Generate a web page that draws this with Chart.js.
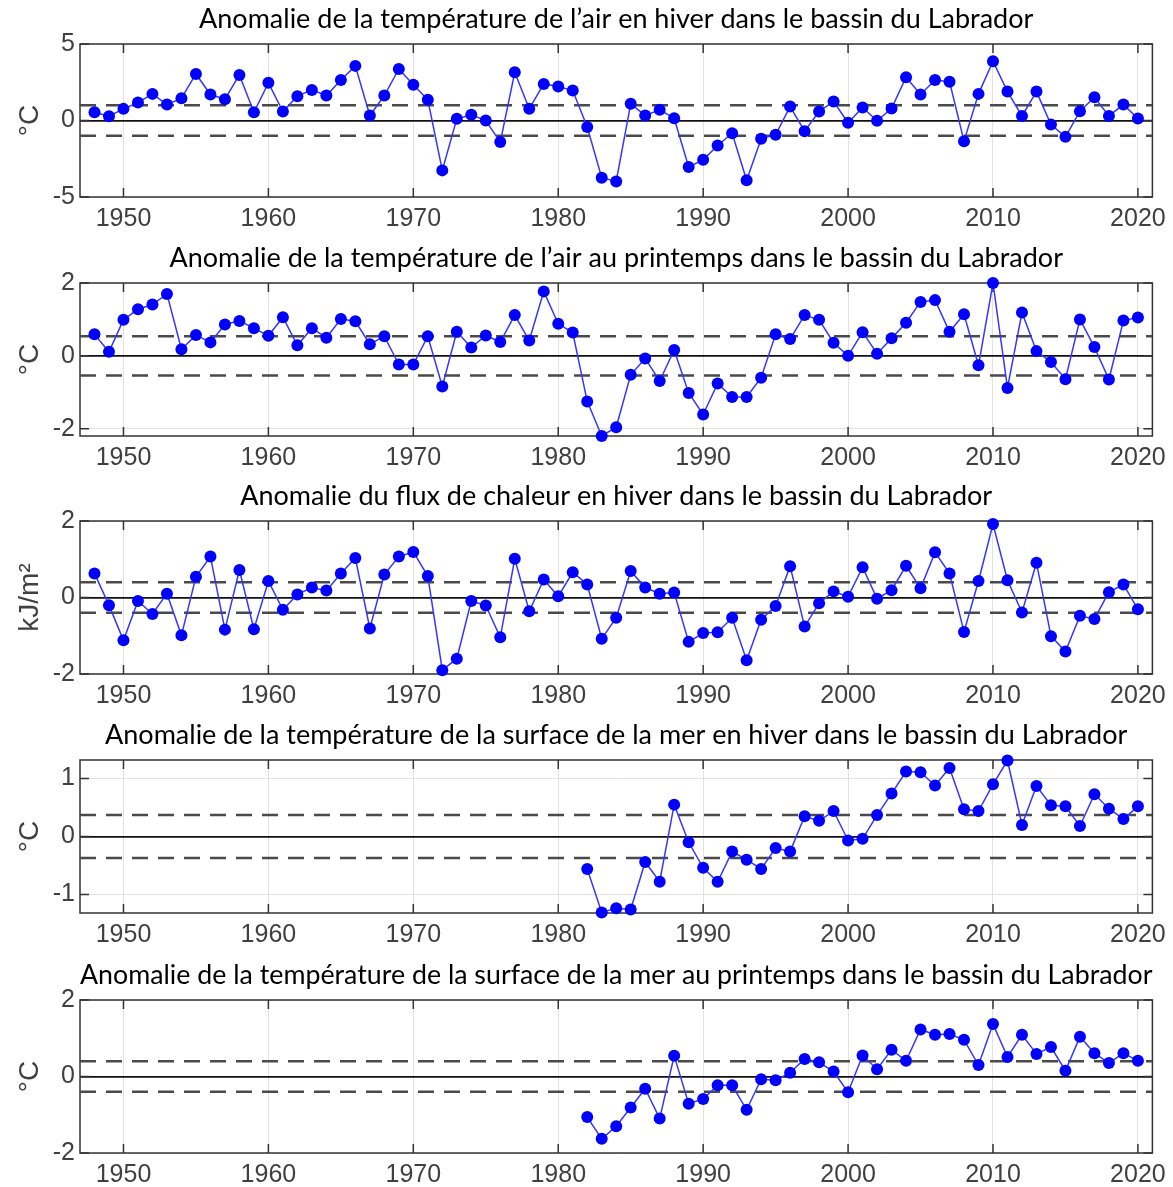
<!DOCTYPE html>
<html lang="fr">
<head>
<meta charset="UTF-8">
<title>Anomalies - bassin du Labrador</title>
<script src="https://cdn.jsdelivr.net/npm/chart.js"></script>
<style>
  html, body { margin: 0; padding: 0; background: #fff; width: 1173px; height: 1187px; overflow: hidden; }
  .panel { position: absolute; left: 0; width: 1173px; height: 239px; }
</style>
</head>
<body>
<div class="panel" style="top:0px"><canvas id="p0" width="1173" height="239"></canvas></div>
<div class="panel" style="top:239px"><canvas id="p1" width="1173" height="239"></canvas></div>
<div class="panel" style="top:477px"><canvas id="p2" width="1173" height="239"></canvas></div>
<div class="panel" style="top:716px"><canvas id="p3" width="1173" height="239"></canvas></div>
<div class="panel" style="top:956px"><canvas id="p4" width="1173" height="239"></canvas></div>

<script>
// x axis
const yearTicks = [1950, 1960, 1970, 1980, 1990, 2000, 2010, 2020];
const xMin = 1947, xMax = 2021;
const yearsLong = Array.from({ length: 73 }, (_, i) => 1948 + i);   // 1948-2020
const yearsShort = Array.from({ length: 39 }, (_, i) => 1982 + i);  // 1982-2020

// air temperature, winter (°C)
const airWinter = [
  0.54, 0.28, 0.76, 1.17, 1.74, 1.04, 1.46, 3.04, 1.70, 1.39,
  2.98, 0.54, 2.46, 0.59, 1.59, 2.00, 1.63, 2.65, 3.57, 0.33,
  1.63, 3.37, 2.33, 1.35, -3.26, 0.11, 0.37, 0.00, -1.41, 3.15,
  0.76, 2.39, 2.22, 1.96, -0.43, -3.74, -3.98, 1.09, 0.33, 0.70,
  0.15, -3.04, -2.57, -1.63, -0.83, -3.91, -1.20, -0.93, 0.91, -0.70,
  0.59, 1.24, -0.15, 0.85, -0.02, 0.78, 2.83, 1.70, 2.65, 2.54,
  -1.35, 1.74, 3.87, 1.89, 0.30, 1.89, -0.26, -1.07, 0.61, 1.52,
  0.30, 1.04, 0.13
];
const airWinterBand = 1.0;
const airWinterTicks = [-5, 0, 5];

// air temperature, spring (°C)
const airSpring = [
  0.59, 0.11, 0.99, 1.28, 1.41, 1.70, 0.18, 0.57, 0.37, 0.86,
  0.96, 0.76, 0.55, 1.06, 0.29, 0.76, 0.50, 1.01, 0.95, 0.32,
  0.54, -0.24, -0.24, 0.54, -0.84, 0.66, 0.23, 0.56, 0.38, 1.12,
  0.42, 1.77, 0.88, 0.64, -1.25, -2.20, -1.96, -0.52, -0.07, -0.69,
  0.16, -1.02, -1.61, -0.76, -1.13, -1.13, -0.60, 0.59, 0.46, 1.12,
  0.99, 0.36, 0.00, 0.65, 0.06, 0.48, 0.91, 1.48, 1.53, 0.66,
  1.14, -0.26, 2.00, -0.88, 1.19, 0.13, -0.17, -0.64, 1.00, 0.24,
  -0.65, 0.97, 1.05
];
const airSpringBand = 0.54;
const airSpringTicks = [-2, 0, 2];

// heat flux, winter (kJ/m2)
const heatFlux = [
  0.63, -0.20, -1.12, -0.09, -0.43, 0.10, -0.99, 0.54, 1.07, -0.84,
  0.72, -0.83, 0.43, -0.32, 0.08, 0.26, 0.18, 0.63, 1.03, -0.81,
  0.60, 1.07, 1.19, 0.56, -1.90, -1.60, -0.09, -0.21, -1.04, 1.01,
  -0.36, 0.47, 0.03, 0.66, 0.34, -1.08, -0.53, 0.69, 0.26, 0.10,
  0.13, -1.16, -0.93, -0.91, -0.53, -1.64, -0.58, -0.22, 0.82, -0.76,
  -0.15, 0.16, 0.02, 0.79, -0.03, 0.19, 0.83, 0.24, 1.18, 0.63,
  -0.90, 0.43, 1.92, 0.45, -0.39, 0.91, -1.01, -1.41, -0.48, -0.56,
  0.14, 0.34, -0.31
];
const heatFluxBand = 0.4;
const heatFluxTicks = [-2, 0, 2];

// sea surface temperature, winter (°C)
const sstWinter = [
  -0.56, -1.31, -1.24, -1.26, -0.44, -0.78, 0.55, -0.10, -0.54, -0.78,
  -0.26, -0.40, -0.56, -0.20, -0.26, 0.35, 0.27, 0.44, -0.07, -0.04,
  0.37, 0.74, 1.12, 1.11, 0.88, 1.18, 0.47, 0.44, 0.90, 1.31,
  0.20, 0.87, 0.54, 0.52, 0.18, 0.73, 0.48, 0.30, 0.52
];
const sstWinterBand = 0.37;
const sstWinterTicks = [-1, 0, 1];

// sea surface temperature, spring (°C)
const sstSpring = [
  -1.06, -1.63, -1.30, -0.81, -0.32, -1.10, 0.54, -0.71, -0.59, -0.23,
  -0.23, -0.87, -0.07, -0.10, 0.10, 0.46, 0.37, 0.13, -0.41, 0.55,
  0.19, 0.70, 0.41, 1.23, 1.09, 1.11, 0.96, 0.30, 1.37, 0.51,
  1.09, 0.59, 0.77, 0.15, 1.04, 0.61, 0.35, 0.61, 0.41
];
const sstSpringBand = 0.4;
const sstSpringTicks = [-2, 0, 2];

const panels = [
  { id: 'p0', title: 'Anomalie de la température de l\u2019air en hiver dans le bassin du Labrador',
    unit: '°C', years: yearsLong, values: airWinter, band: airWinterBand, ticks: airWinterTicks, min: -5, max: 5 },
  { id: 'p1', title: 'Anomalie de la température de l\u2019air au printemps dans le bassin du Labrador',
    unit: '°C', years: yearsLong, values: airSpring, band: airSpringBand, ticks: airSpringTicks, min: -2.2, max: 2 },
  { id: 'p2', title: 'Anomalie du flux de chaleur en hiver dans le bassin du Labrador',
    unit: 'kJ/m²', years: yearsLong, values: heatFlux, band: heatFluxBand, ticks: heatFluxTicks, min: -2, max: 2 },
  { id: 'p3', title: 'Anomalie de la température de la surface de la mer en hiver dans le bassin du Labrador',
    unit: '°C', years: yearsShort, values: sstWinter, band: sstWinterBand, ticks: sstWinterTicks, min: -1.32, max: 1.32 },
  { id: 'p4', title: 'Anomalie de la température de la surface de la mer au printemps dans le bassin du Labrador',
    unit: '°C', years: yearsShort, values: sstSpring, band: sstSpringBand, ticks: sstSpringTicks, min: -2, max: 2 }
];

const tickFont = { family: "'Liberation Sans', Arial, sans-serif", size: 25 };
const tickColor = '#404040';

// box around the plot area with inward tick marks on all four sides
const framePlugin = {
  id: 'frame',
  beforeDatasetsDraw(chart) {
    const { ctx, chartArea: a, scales: { x, y } } = chart;
    const tl = 9;
    ctx.save();
    ctx.strokeStyle = '#333';
    ctx.lineWidth = 1.5;
    ctx.strokeRect(a.left, a.top, a.right - a.left, a.bottom - a.top);
    ctx.beginPath();
    x.ticks.forEach(t => {
      const px = x.getPixelForValue(t.value);
      ctx.moveTo(px, a.bottom); ctx.lineTo(px, a.bottom - tl);
      ctx.moveTo(px, a.top); ctx.lineTo(px, a.top + tl);
    });
    y.ticks.forEach(t => {
      const py = y.getPixelForValue(t.value);
      ctx.moveTo(a.left, py); ctx.lineTo(a.left + tl, py);
      ctx.moveTo(a.right, py); ctx.lineTo(a.right - tl, py);
    });
    ctx.stroke();
    ctx.restore();
  }
};

function bandLine(level) {
  return {
    data: [{ x: xMin, y: level }, { x: xMax, y: level }],
    borderColor: '#4a4a4a',
    borderWidth: 2.5,
    borderDash: [16, 10],
    pointRadius: 0
  };
}

panels.forEach(p => {
  const points = p.years.map((yr, i) => ({ x: yr, y: p.values[i] }));
  new Chart(document.getElementById(p.id), {
    type: 'line',
    data: {
      datasets: [
        {
          data: points,
          borderColor: '#3535ff',
          borderWidth: 1.5,
          pointRadius: 6,
          pointHoverRadius: 6,
          pointBackgroundColor: '#0000ff',
          pointBorderWidth: 0,
          tension: 0,
          clip: false
        },
        bandLine(p.band),
        bandLine(-p.band)
      ]
    },
    options: {
      responsive: false,
      animation: false,
      events: [],
      layout: { padding: { left: 0, right: 20, top: 0, bottom: 0 } },
      plugins: {
        legend: { display: false },
        tooltip: { enabled: false },
        title: {
          display: true,
          text: p.title,
          fullSize: false,
          color: '#000',
          font: { family: 'Lato, sans-serif', size: 27, weight: 'normal' },
          padding: { top: 3, bottom: 8.6 }
        }
      },
      scales: {
        x: {
          type: 'linear',
          min: xMin,
          max: xMax,
          afterBuildTicks: s => { s.ticks = yearTicks.map(v => ({ value: v })); },
          afterFit: s => { s.height = 42; },
          ticks: { font: tickFont, color: tickColor, padding: 7, maxRotation: 0, autoSkip: false,
                   callback: v => String(v) },
          grid: { color: '#e2e2e2', lineWidth: 1, drawTicks: false },
          border: { display: false }
        },
        y: {
          min: p.min,
          max: p.max,
          afterBuildTicks: s => { s.ticks = p.ticks.map(v => ({ value: v })); },
          afterFit: s => { s.width = 80; },
          ticks: { font: tickFont, color: tickColor, padding: 5, callback: v => String(v) },
          grid: {
            drawTicks: false,
            color: c => (c.tick && c.tick.value === 0) ? '#111' : '#e2e2e2',
            lineWidth: c => (c.tick && c.tick.value === 0) ? 1.8 : 1
          },
          border: { display: false },
          title: {
            display: true,
            text: p.unit,
            color: '#404040',
            font: { family: "'Liberation Sans', Arial, sans-serif", size: 28 },
            padding: { top: 13, bottom: 0 }
          }
        }
      }
    },
    plugins: [framePlugin]
  });
});
</script>
</body>
</html>
